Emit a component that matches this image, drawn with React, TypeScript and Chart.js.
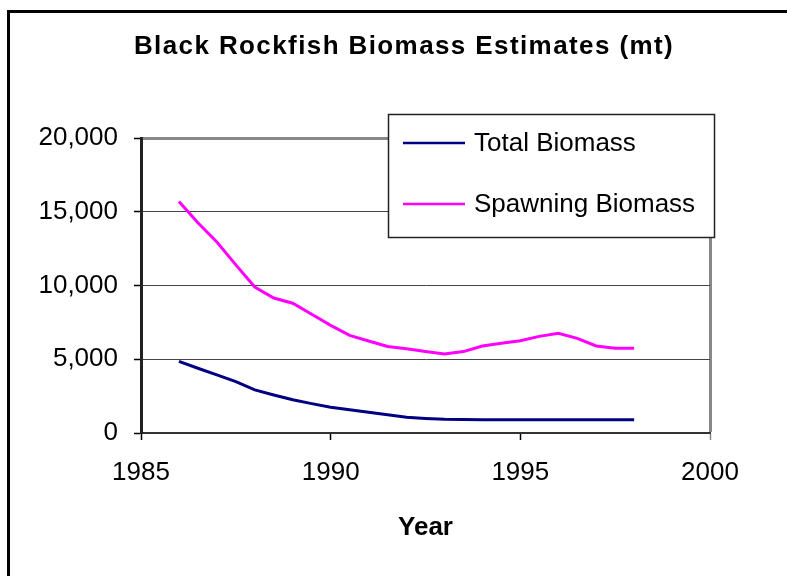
import React, { useEffect, useRef } from "react";
import { Chart, registerables } from "chart.js";

Chart.register(...registerables);

const chartTitle = "Black Rockfish Biomass Estimates (mt)";
const xAxisTitle = "Year";
const seriesNames = ["Total Biomass", "Spawning Biomass"];
const seriesColors = ["#000080", "#FF00FF"];

const years = [
  1986, 1986.5, 1987, 1987.5, 1988, 1988.5, 1989, 1989.5, 1990, 1990.5, 1991, 1991.5, 1992,
  1992.5, 1993, 1993.5, 1994, 1994.5, 1995, 1995.5, 1996, 1996.5, 1997, 1997.5, 1998,
];

const totalBiomass = [
  4850, 4390, 3940, 3490, 2920, 2580, 2250, 1990, 1740, 1570, 1400, 1235, 1065,
  990, 930, 910, 900, 900, 900, 900, 900, 900, 900, 900, 900,
];

const spawningBiomass = [
  15700, 14250, 12950, 11400, 9900, 9150, 8800, 8050, 7300, 6620, 6240, 5870, 5715,
  5525, 5360, 5520, 5900, 6080, 6260, 6550, 6760, 6420, 5900, 5740, 5740,
];

const xTicks = [1985, 1990, 1995, 2000];
const yTicks = [0, 5000, 10000, 15000, 20000];

const FONT = "'Liberation Sans', Arial, sans-serif";

const framePlugin = {
  id: "framePlugin",
  afterDraw(chart: any) {
    const ctx = chart.ctx;
    ctx.save();
    // outer frame
    ctx.strokeStyle = "#000";
    ctx.lineWidth = 3;
    ctx.strokeRect(8.5, 11.5, 900, 700);
    // title
    ctx.fillStyle = "#000";
    ctx.font = `bold 26px ${FONT}`;
    ctx.textAlign = "center";
    ctx.textBaseline = "alphabetic";
    try {
      (ctx as any).letterSpacing = "1.4px";
    } catch (e) {}
    ctx.fillText(chartTitle, 404, 54);
    try {
      (ctx as any).letterSpacing = "0px";
    } catch (e) {}
    // legend
    ctx.fillStyle = "#fff";
    ctx.fillRect(388, 114, 327, 124);
    ctx.strokeStyle = "#222";
    ctx.lineWidth = 1.5;
    ctx.strokeRect(388.5, 114.5, 326, 123);
    const rows = [
      { lineY: 143, baseY: 151 },
      { lineY: 204, baseY: 212 },
    ];
    chart.data.datasets.forEach((ds: any, i: number) => {
      const r = rows[i];
      ctx.strokeStyle = ds.borderColor;
      ctx.lineWidth = 2.5;
      ctx.beginPath();
      ctx.moveTo(403, r.lineY);
      ctx.lineTo(465, r.lineY);
      ctx.stroke();
      ctx.fillStyle = "#000";
      ctx.font = `26px ${FONT}`;
      ctx.textAlign = "left";
      ctx.textBaseline = "alphabetic";
      ctx.fillText(ds.label, 474, r.baseY);
    });
    ctx.restore();
  },
};

export default function App() {
  const canvasRef = useRef<HTMLCanvasElement | null>(null);

  useEffect(() => {
    document.body.style.margin = "0";
    const canvas = canvasRef.current;
    if (!canvas) return;
    const chart = new Chart(canvas, {
      type: "line",
      data: {
        datasets: [
          {
            label: seriesNames[0],
            data: years.map((x, i) => ({ x, y: totalBiomass[i] })),
            borderColor: seriesColors[0],
            backgroundColor: seriesColors[0],
            borderWidth: 3,
            pointRadius: 0,
            tension: 0,
          },
          {
            label: seriesNames[1],
            data: years.map((x, i) => ({ x, y: spawningBiomass[i] })),
            borderColor: seriesColors[1],
            backgroundColor: seriesColors[1],
            borderWidth: 3,
            pointRadius: 0,
            tension: 0,
          },
        ],
      },
      options: {
        responsive: false,
        animation: false,
        devicePixelRatio: 1,
        layout: { padding: { top: 138, right: 77, left: 0, bottom: 0 } },
        plugins: {
          legend: { display: false },
          title: { display: false },
          tooltip: { enabled: false },
        },
        scales: {
          x: {
            type: "linear",
            min: xTicks[0],
            max: xTicks[xTicks.length - 1],
            afterBuildTicks: (scale: any) => {
              scale.ticks = xTicks.map((v) => ({ value: v }));
            },
            afterFit: (scale: any) => {
              scale.height = 143;
            },
            ticks: {
              color: "#000",
              font: { family: FONT, size: 26 },
              padding: 17,
              maxRotation: 0,
              callback: (v: any) => String(v),
            },
            grid: {
              drawOnChartArea: true,
              drawTicks: true,
              tickLength: 7,
              color: (c: any) => (c.tick && c.tick.value === 2000 ? "#888" : "rgba(0,0,0,0)"),
              lineWidth: (c: any) => (c.tick && c.tick.value === 2000 ? 3 : 1),
              tickColor: (c: any) => (c.tick && c.tick.value === 2000 ? "#888" : "#000"),
              tickWidth: 1.5,
            },
            border: { display: true, color: "#333", width: 2 },
            title: {
              display: true,
              text: xAxisTitle,
              color: "#000",
              font: { family: FONT, size: 26, weight: "bold" },
              padding: { top: 0, bottom: 33 },
            },
          },
          y: {
            type: "linear",
            min: yTicks[0],
            max: yTicks[yTicks.length - 1],
            afterBuildTicks: (scale: any) => {
              scale.ticks = yTicks.map((v) => ({ value: v }));
            },
            afterFit: (scale: any) => {
              scale.width = 141;
            },
            ticks: {
              color: "#000",
              font: { family: FONT, size: 26 },
              padding: 16,
              callback: (v: any) => Number(v).toLocaleString("en-US"),
            },
            grid: {
              drawOnChartArea: true,
              drawTicks: true,
              tickLength: 7,
              color: (c: any) => (c.tick && c.tick.value === 20000 ? "#888" : "#444"),
              lineWidth: (c: any) => (c.tick && c.tick.value === 20000 ? 3 : 1),
              tickColor: "#000",
              tickWidth: 1.5,
            },
            border: { display: true, color: "#222", width: 3 },
          },
        },
      },
      plugins: [framePlugin],
    } as any);
    return () => chart.destroy();
  }, []);

  return (
    <div style={{ position: "fixed", left: 0, top: 0, width: 787, height: 576, background: "#fff" }}>
      <canvas ref={canvasRef} width={787} height={576} style={{ width: 787, height: 576 }} />
    </div>
  );
}
